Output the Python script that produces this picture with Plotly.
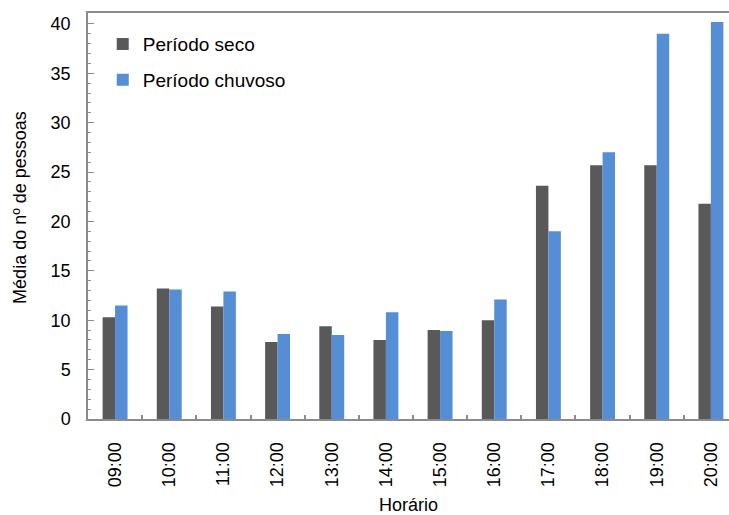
import plotly.graph_objects as go

horarios = ["09:00", "10:00", "11:00", "12:00", "13:00", "14:00",
            "15:00", "16:00", "17:00", "18:00", "19:00", "20:00"]
periodo_seco = [10.3, 13.2, 11.4, 7.8, 9.4, 8.0, 9.0, 10.0, 23.6, 25.7, 25.7, 21.8]
periodo_chuvoso = [11.5, 13.1, 12.9, 8.6, 8.5, 10.8, 8.9, 12.1, 19.0, 27.0, 39.0, 40.2]
y_ticks = [0, 5, 10, 15, 20, 25, 30, 35, 40]

FONT = "Liberation Sans, Arial, sans-serif"

fig = go.Figure()
fig.add_trace(go.Bar(x=horarios, y=periodo_seco, name="Período seco",
                     marker=dict(color="#595959", line=dict(width=0)),
                     legendgroup="a"))
fig.add_trace(go.Bar(x=horarios, y=periodo_chuvoso, name="Período chuvoso",
                     marker=dict(color="#558ED5", line=dict(width=0)),
                     legendgroup="b"))

fig.update_layout(
    width=729, height=515,
    margin=dict(l=88, r=0, t=13, b=96),
    paper_bgcolor="white", plot_bgcolor="white",
    barmode="group", bargap=0.54, bargroupgap=0,
    font=dict(family=FONT, size=18, color="#000000"),
    showlegend=True,
    legend=dict(x=0.023, y=0.97, xanchor="left", yanchor="top",
                bgcolor="rgba(0,0,0,0)", font=dict(size=19),
                traceorder="grouped", tracegroupgap=8, itemwidth=30),
    xaxis=dict(
        type="category", range=[-0.5, 11.334],
        showline=True, linecolor="#8C8C8C", linewidth=2, mirror=True,
        ticks="inside", tickson="boundaries", ticklen=4, tickcolor="#8C8C8C",
        tickwidth=1.5, tickangle=-90, ticklabelstandoff=14,
        showgrid=False, zeroline=False,
    ),
    yaxis=dict(
        range=[0, 41.1], tickvals=y_ticks,
        showline=True, linecolor="#8C8C8C", linewidth=1.5,
        ticks="inside", ticklen=6, tickcolor="#8C8C8C", tickwidth=1,
        minor=dict(dtick=1, ticks="inside", ticklen=3, tickcolor="#8C8C8C"),
        ticklabelstandoff=12,
        showgrid=False, zeroline=False,
    ),
    annotations=[
        dict(text="Média do nº de pessoas", xref="paper", yref="paper",
             x=-88/641 + 20/641, y=0.52, textangle=-90, showarrow=False,
             xanchor="center", yanchor="middle", font=dict(size=18)),
        dict(text="Horário", xref="paper", yref="paper",
             x=0.5, y=-86/405.5, showarrow=False,
             xanchor="center", yanchor="middle", font=dict(size=18)),
    ],
)

fig.write_html("out.html")
